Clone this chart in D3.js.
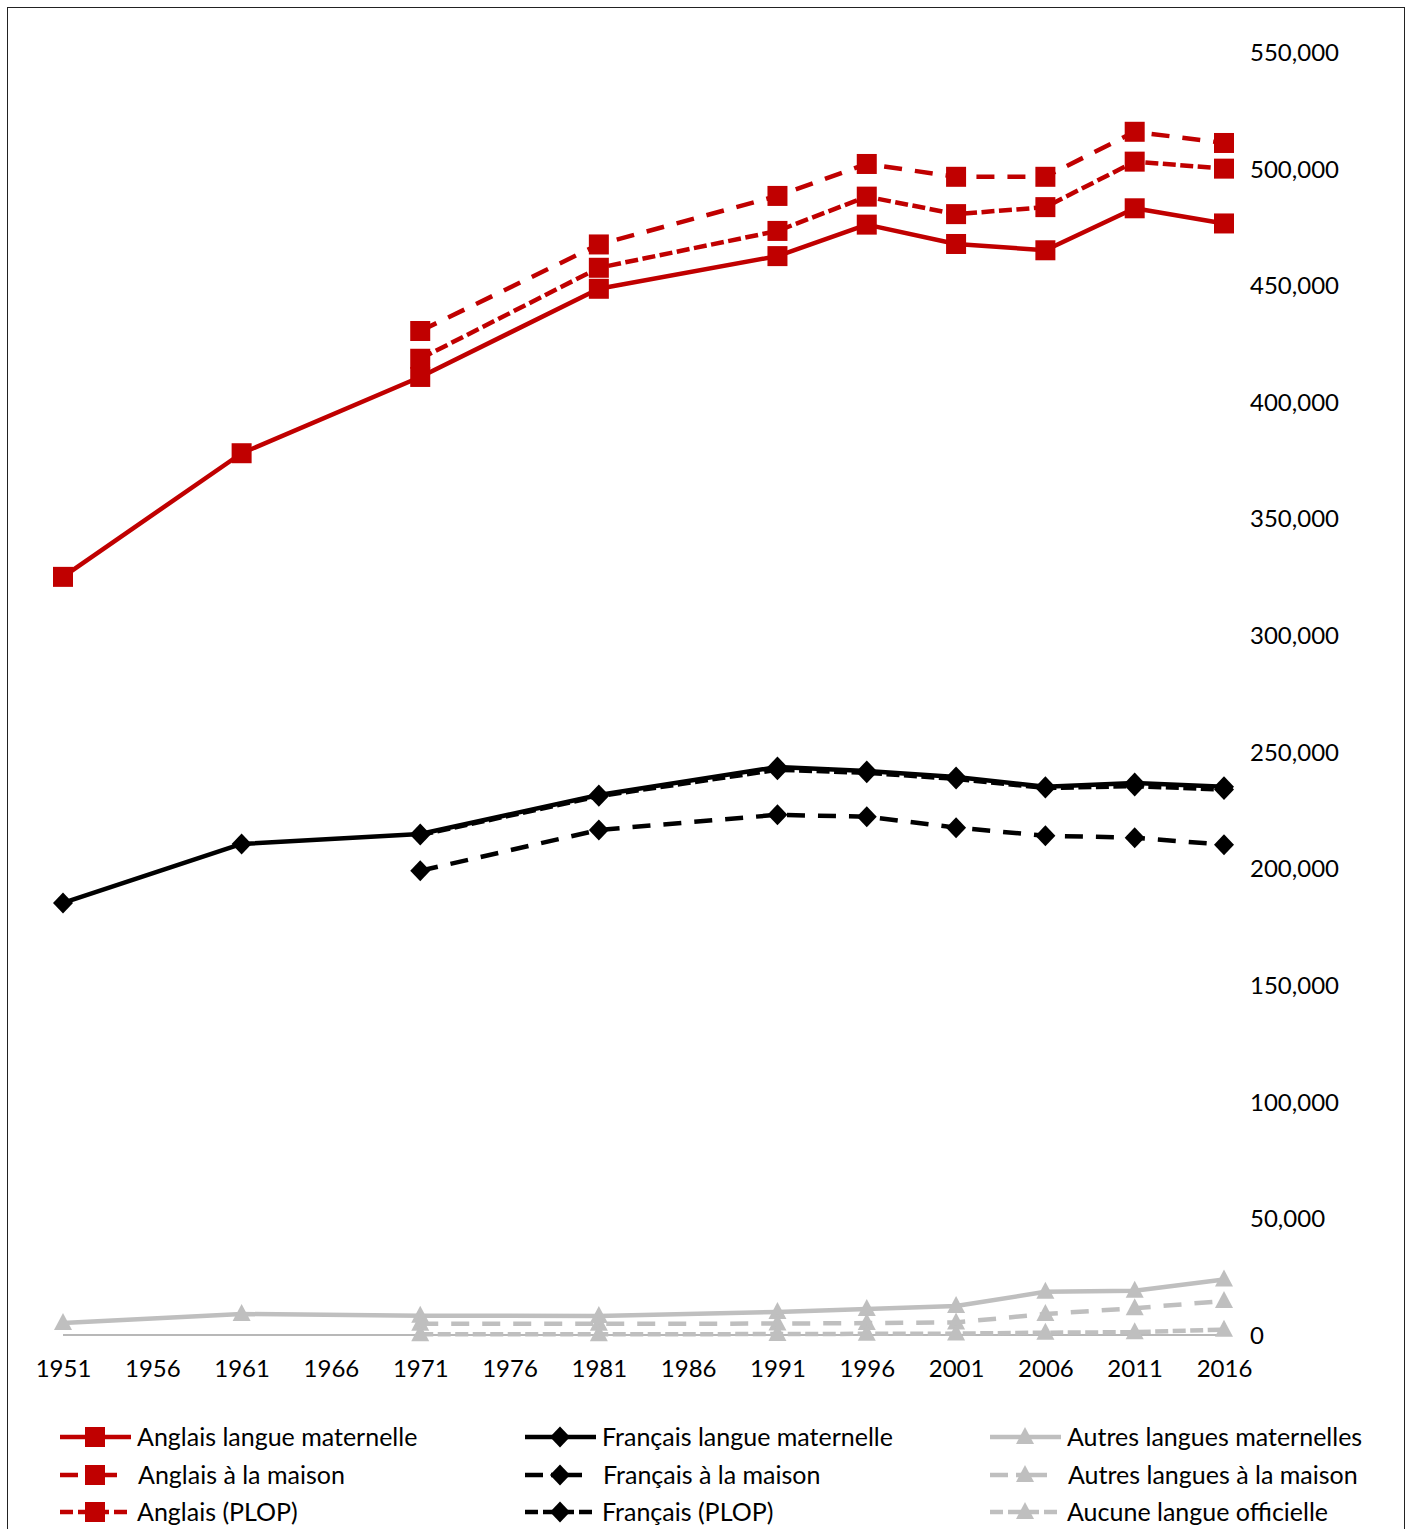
<!DOCTYPE html>
<html>
<head>
<meta charset="utf-8">
<script src="https://cdn.jsdelivr.net/npm/d3@7"></script>
<style>
  html, body { margin: 0; padding: 0; background: #fff; }
  svg { display: block; }
  text { font-family: Lato, "Open Sans", sans-serif; }
</style>
</head>
<body>
<svg id="chart" width="1411" height="1529"></svg>
<script>
// ---- Data ----
const tickYears = ["1951","1956","1961","1966","1971","1976","1981","1986","1991","1996","2001","2006","2011","2016"];
const dataYears = ["1951","1961","1971","1981","1991","1996","2001","2006","2011","2016"];
const yTicks = [0,50000,100000,150000,200000,250000,300000,350000,400000,450000,500000,550000];

const anglaisLM      = [325000, 378000, 410700, 448500, 462500, 476000, 467700, 465000, 483000, 476500];
const francaisLM     = [185200, 210500, 214800, 231500, 243500, 241800, 239200, 235000, 236600, 235000];
const autresLM       = [5100, 9000, 8300, 8100, 9900, 11100, 12400, 18500, 19000, 23800];
const anglaisMaison  = [null, null, 430400, 467500, 488300, 502000, 496500, 496500, 515800, 511000];
const francaisMaison = [null, null, 199000, 216500, 223000, 222200, 217500, 214000, 213200, 210200];
const autresMaison   = [null, null, 4800, 4800, 4900, 5100, 5400, 9000, 11500, 14600];
const anglaisPLOP    = [null, null, 418500, 457500, 473300, 488000, 480500, 483500, 503000, 500000];
const francaisPLOP   = [null, null, 214300, 231000, 242300, 241000, 238400, 234500, 235300, 233800];
const aucune         = [null, null, 300, 300, 400, 500, 600, 1000, 1200, 2300];

const seriesNames = [
  "Anglais langue maternelle", "Français langue maternelle", "Autres langues maternelles",
  "Anglais à la maison", "Français à la maison", "Autres langues à la maison",
  "Anglais (PLOP)", "Français (PLOP)", "Aucune langue officielle"
];
const seriesValues = [anglaisLM, francaisLM, autresLM, anglaisMaison, francaisMaison, autresMaison, anglaisPLOP, francaisPLOP, aucune];

// ---- Styles ----
const RED = "#C00000", BLACK = "#000000", GRAY = "#BFBFBF";
const colors = [RED, BLACK, GRAY, RED, BLACK, GRAY, RED, BLACK, GRAY];
const markers = ["square", "diamond", "triangle", "square", "diamond", "triangle", "square", "diamond", "triangle"];
const dashes = ["none", "none", "none", "18,13", "18,13", "18,13", "13,4.5", "13,4.5", "13,4.5"];
const legendDashes = ["none", "18,8,31,40", "13,5,13,5,13,5,13,5,4,20"];
const LW = 4.5;

const svg = d3.select("#chart");

// frame
svg.append("rect").attr("x", 7.5).attr("y", 7.5).attr("width", 1397).attr("height", 1540)
  .attr("fill", "none").attr("stroke", "#222").attr("stroke-width", 1);

const x = d3.scalePoint().domain(tickYears).range([63, 1224]).padding(0);
const y = d3.scaleLinear().domain([0, 550000]).range([1335, 52]);

// baseline axis (category axis line)
svg.append("line")
  .attr("x1", x("1951")).attr("x2", x("2016"))
  .attr("y1", y(0)).attr("y2", y(0))
  .attr("stroke", "#A0A0A0").attr("stroke-width", 1.5);

// y axis labels (right side, no line)
const yAxis = d3.axisRight(y).tickValues(yTicks).tickSize(0).tickPadding(0)
  .tickFormat(d => d === 0 ? "0" : d3.format(",")(d));
const yg = svg.append("g").attr("transform", "translate(1250,0)").call(yAxis);
yg.select(".domain").remove();
yg.selectAll("text").attr("font-size", 24).attr("fill", "#000")
  .attr("font-family", "Lato, 'Open Sans', sans-serif").attr("dy", "0.35em");

// x axis labels
const xAxis = d3.axisBottom(x).tickSize(0).tickPadding(0);
const xg = svg.append("g").attr("transform", "translate(0,1369)").call(xAxis);
xg.select(".domain").remove();
xg.selectAll("text").attr("font-size", 24).attr("fill", "#000")
  .attr("font-family", "Lato, 'Open Sans', sans-serif").attr("dy", "0.35em");

// marker drawing
function drawMarker(g, type, cx, cy, color) {
  if (type === "square") {
    g.append("rect").attr("x", cx - 10).attr("y", cy - 10).attr("width", 20).attr("height", 20).attr("fill", color);
  } else if (type === "diamond") {
    g.append("path").attr("d", `M${cx},${cy - 10.5}L${cx + 10},${cy}L${cx},${cy + 10.5}L${cx - 10},${cy}Z`).attr("fill", color);
  } else {
    g.append("path").attr("d", `M${cx},${cy - 10}L${cx + 9},${cy + 7}L${cx - 9},${cy + 7}Z`).attr("fill", color);
  }
}

const line = d3.line().x(d => x(d.year)).y(d => y(d.value));

seriesValues.forEach((vals, i) => {
  const pts = dataYears.map((yr, j) => ({ year: yr, value: vals[j] })).filter(d => d.value !== null);
  const g = svg.append("g");
  g.append("path").datum(pts).attr("d", line)
    .attr("fill", "none").attr("stroke", colors[i]).attr("stroke-width", LW)
    .attr("stroke-linejoin", "round")
    .attr("stroke-dasharray", dashes[i]);
  pts.forEach(p => drawMarker(g, markers[i], x(p.year), y(p.value), colors[i]));
});

// legend
const colX = [60, 525, 990];
const rowY = [1437, 1475, 1512];
seriesNames.forEach((name, i) => {
  const col = i % 3, row = Math.floor(i / 3);
  const lx = colX[col], ly = rowY[row];
  const g = svg.append("g");
  g.append("line").attr("x1", lx).attr("x2", lx + 71).attr("y1", ly).attr("y2", ly)
    .attr("stroke", colors[i]).attr("stroke-width", LW).attr("stroke-dasharray", legendDashes[row]);
  drawMarker(g, markers[i], lx + 35, ly, colors[i]);
  g.append("text").attr("x", lx + 77 + (row === 1 ? 1 : 0)).attr("y", ly).attr("dy", "0.35em")
    .attr("font-size", 25).attr("fill", "#000").text(name);
});
</script>
</body>
</html>
